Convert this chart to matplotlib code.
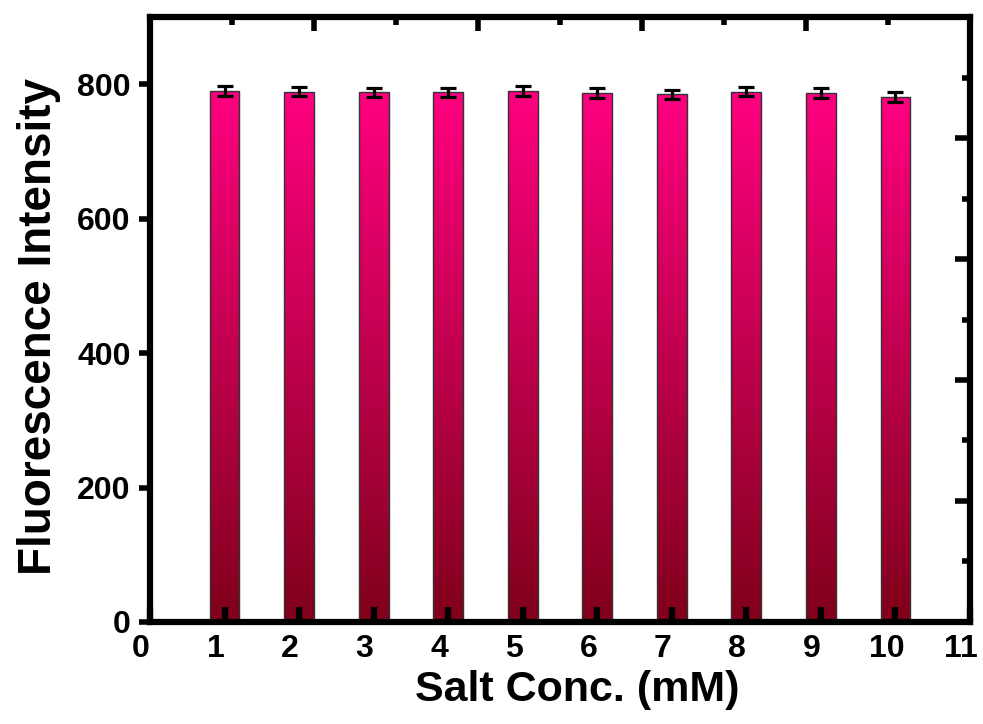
import matplotlib
matplotlib.use("Agg")
import matplotlib.pyplot as plt
import numpy as np
from matplotlib.colors import LinearSegmentedColormap
from matplotlib.ticker import FixedLocator, NullFormatter
from matplotlib.transforms import ScaledTranslation

salt_conc = [1, 2, 3, 4, 5, 6, 7, 8, 9, 10]
intensity = [790, 789, 788, 788, 790, 787, 785, 789, 787, 781]
intensity_err = [7, 7, 7, 7, 7, 7, 7, 7, 7, 7]
x_ticks = list(range(0, 12))
y_ticks = [0, 200, 400, 600, 800]

plt.rcParams["font.family"] = ["Liberation Sans", "DejaVu Sans"]
plt.rcParams["font.weight"] = "bold"

fig = plt.figure(figsize=(9.83, 7.24), dpi=100)
ax = fig.add_axes([0.1526, 0.1409, 0.8342, 0.8356])
ax.set_axisbelow(False)

# pink at the top fading to dark red at the base
grad = LinearSegmentedColormap.from_list("bar", ["#80001a", "#ff0080"])

bars = ax.bar(salt_conc, intensity, width=0.4, facecolor="none",
              edgecolor="#333333", linewidth=1.0, zorder=1.5)
for patch in bars:
    x0 = patch.get_x()
    w = patch.get_width()
    h = patch.get_height()
    img = ax.imshow(np.linspace(0, 1, 256).reshape(-1, 1), cmap=grad,
                    origin="lower", aspect="auto",
                    extent=(x0, x0 + w, 0, h), zorder=1)
    img.set_clip_path(patch)

ax.errorbar(salt_conc, intensity, yerr=intensity_err, fmt="none",
            ecolor="black", elinewidth=2.3, capsize=5.5, capthick=2.3,
            zorder=4)

ax.set_xlim(0, 11)
ax.set_ylim(0, 900)
ax.xaxis.set_major_locator(FixedLocator(x_ticks))
ax.yaxis.set_major_locator(FixedLocator(y_ticks))
ax.set_xticklabels([str(t) for t in x_ticks])
ax.set_yticklabels([str(t) for t in y_ticks])

# unlabeled ticks on top and right frame
top = ax.twiny()
right = ax.twinx()
top.set_xlim(0, 1)
right.set_ylim(0, 1)
for sec, axis in ((top, top.xaxis), (right, right.yaxis)):
    axis.set_major_locator(FixedLocator([0.2, 0.4, 0.6, 0.8]))
    axis.set_minor_locator(FixedLocator([0.1, 0.3, 0.5, 0.7, 0.9]))
    axis.set_major_formatter(NullFormatter())
    for sp in sec.spines.values():
        sp.set_visible(False)
top.tick_params(axis="x", which="major", direction="in", length=10, width=4)
top.tick_params(axis="x", which="minor", direction="in", length=6, width=4)
right.tick_params(axis="y", which="major", direction="in", length=11, width=4)
right.tick_params(axis="y", which="minor", direction="in", length=6, width=4)

for sp in ax.spines.values():
    sp.set_linewidth(4.5)
    sp.set_capstyle("projecting")

ax.tick_params(axis="x", which="major", bottom=True, direction="in",
               length=11, width=4.5, pad=9, labelsize=23)
ax.tick_params(axis="y", direction="out", length=8, width=4, pad=6,
               labelsize=23)

# labels sit slightly left of their ticks
shift = ScaledTranslation(-0.09, 0, fig.dpi_scale_trans)
for lab in ax.get_xticklabels():
    lab.set_transform(lab.get_transform() + shift)

ax.set_xlabel("Salt Conc. (mM)", fontsize=31, fontweight="bold")
ax.set_ylabel("Fluorescence Intensity", fontsize=33, fontweight="bold")
ax.xaxis.set_label_coords(0.521, -0.079)
ax.yaxis.set_label_coords(-0.108, 0.488)

fig.savefig("out.png", dpi=100)
